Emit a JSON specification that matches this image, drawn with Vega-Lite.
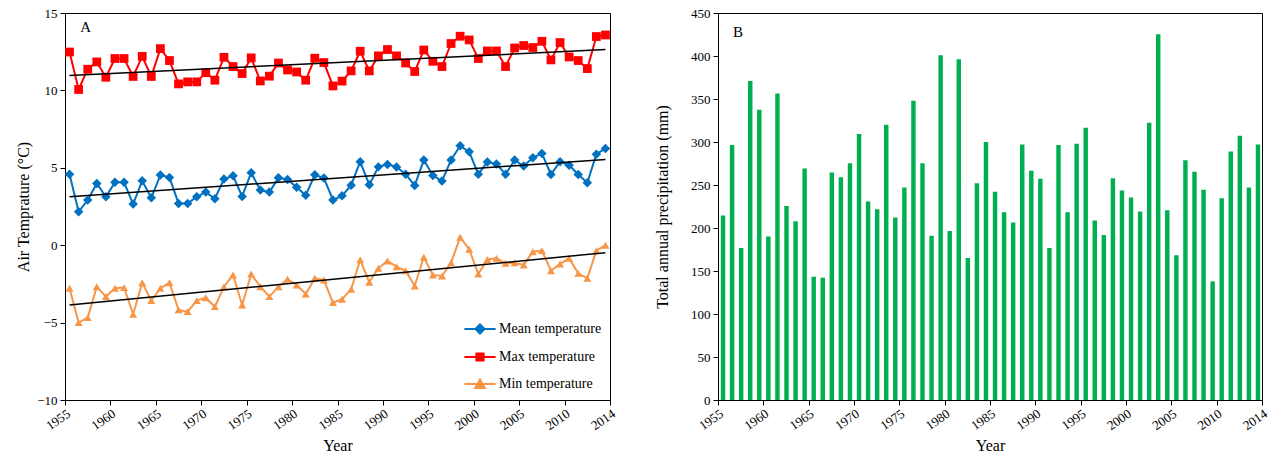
{
  "$schema": "https://vega.github.io/schema/vega-lite/v6.json",
  "padding": {"left": 15, "top": 6, "right": 5, "bottom": 5},
  "spacing": 36,
  "datasets": {
    "temp": [
      {"year": "1955", "mean": 4.59, "max": 12.48, "min": -2.78},
      {"year": "1956", "mean": 2.16, "max": 10.06, "min": -5.0},
      {"year": "1957", "mean": 2.92, "max": 11.37, "min": -4.68},
      {"year": "1958", "mean": 3.99, "max": 11.84, "min": -2.68},
      {"year": "1959", "mean": 3.13, "max": 10.85, "min": -3.32},
      {"year": "1960", "mean": 4.06, "max": 12.06, "min": -2.78},
      {"year": "1961", "mean": 4.06, "max": 12.06, "min": -2.74},
      {"year": "1962", "mean": 2.66, "max": 10.9, "min": -4.46},
      {"year": "1963", "mean": 4.16, "max": 12.2, "min": -2.42},
      {"year": "1964", "mean": 3.06, "max": 10.9, "min": -3.58},
      {"year": "1965", "mean": 4.53, "max": 12.7, "min": -2.78},
      {"year": "1966", "mean": 4.38, "max": 11.93, "min": -2.42},
      {"year": "1967", "mean": 2.7, "max": 10.42, "min": -4.18},
      {"year": "1968", "mean": 2.7, "max": 10.55, "min": -4.29},
      {"year": "1969", "mean": 3.13, "max": 10.55, "min": -3.58},
      {"year": "1970", "mean": 3.43, "max": 11.15, "min": -3.39},
      {"year": "1971", "mean": 3.0, "max": 10.66, "min": -3.97},
      {"year": "1972", "mean": 4.27, "max": 12.14, "min": -2.68},
      {"year": "1973", "mean": 4.48, "max": 11.54, "min": -1.92},
      {"year": "1974", "mean": 3.15, "max": 11.09, "min": -3.86},
      {"year": "1975", "mean": 4.68, "max": 12.1, "min": -1.86},
      {"year": "1976", "mean": 3.56, "max": 10.61, "min": -2.68},
      {"year": "1977", "mean": 3.43, "max": 10.92, "min": -3.32},
      {"year": "1978", "mean": 4.35, "max": 11.77, "min": -2.68},
      {"year": "1979", "mean": 4.25, "max": 11.32, "min": -2.2},
      {"year": "1980", "mean": 3.75, "max": 11.19, "min": -2.57},
      {"year": "1981", "mean": 3.22, "max": 10.66, "min": -3.15},
      {"year": "1982", "mean": 4.55, "max": 12.08, "min": -2.14},
      {"year": "1983", "mean": 4.34, "max": 11.8, "min": -2.25},
      {"year": "1984", "mean": 2.92, "max": 10.29, "min": -3.71},
      {"year": "1985", "mean": 3.19, "max": 10.6, "min": -3.49},
      {"year": "1986", "mean": 3.88, "max": 11.26, "min": -2.85},
      {"year": "1987", "mean": 5.39, "max": 12.53, "min": -0.95},
      {"year": "1988", "mean": 3.9, "max": 11.26, "min": -2.39},
      {"year": "1989", "mean": 5.06, "max": 12.23, "min": -1.49},
      {"year": "1990", "mean": 5.22, "max": 12.64, "min": -1.02},
      {"year": "1991", "mean": 5.05, "max": 12.23, "min": -1.39},
      {"year": "1992", "mean": 4.59, "max": 11.77, "min": -1.65},
      {"year": "1993", "mean": 3.86, "max": 11.22, "min": -2.63},
      {"year": "1994", "mean": 5.5, "max": 12.61, "min": -0.78},
      {"year": "1995", "mean": 4.51, "max": 11.88, "min": -1.92},
      {"year": "1996", "mean": 4.14, "max": 11.54, "min": -1.99},
      {"year": "1997", "mean": 5.5, "max": 13.03, "min": -1.13},
      {"year": "1998", "mean": 6.42, "max": 13.5, "min": 0.51},
      {"year": "1999", "mean": 6.03, "max": 13.26, "min": -0.26},
      {"year": "2000", "mean": 4.59, "max": 12.06, "min": -1.86},
      {"year": "2001", "mean": 5.37, "max": 12.55, "min": -0.92},
      {"year": "2002", "mean": 5.24, "max": 12.55, "min": -0.85},
      {"year": "2003", "mean": 4.59, "max": 11.54, "min": -1.17},
      {"year": "2004", "mean": 5.5, "max": 12.74, "min": -1.13},
      {"year": "2005", "mean": 5.11, "max": 12.9, "min": -1.28},
      {"year": "2006", "mean": 5.65, "max": 12.77, "min": -0.42},
      {"year": "2007", "mean": 5.93, "max": 13.17, "min": -0.35},
      {"year": "2008", "mean": 4.57, "max": 11.97, "min": -1.65},
      {"year": "2009", "mean": 5.39, "max": 13.09, "min": -1.21},
      {"year": "2010", "mean": 5.17, "max": 12.16, "min": -0.85},
      {"year": "2011", "mean": 4.57, "max": 11.93, "min": -1.82},
      {"year": "2012", "mean": 4.03, "max": 11.41, "min": -2.14},
      {"year": "2013", "mean": 5.88, "max": 13.48, "min": -0.35},
      {"year": "2014", "mean": 6.25, "max": 13.58, "min": 0.0}
    ],
    "trend": [
      {"year": "1955", "series": "mean", "temp": 3.13},
      {"year": "2014", "series": "mean", "temp": 5.54},
      {"year": "1955", "series": "max", "temp": 10.96},
      {"year": "2014", "series": "max", "temp": 12.64},
      {"year": "1955", "series": "min", "temp": -3.86},
      {"year": "2014", "series": "min", "temp": -0.48}
    ],
    "panelA": [{"label": "A"}],
    "panelB": [{"label": "B"}],
    "precip": [
      {"year": "1955", "precip": 214.5}, {"year": "1956", "precip": 296.4}, {"year": "1957", "precip": 176.8},
      {"year": "1958", "precip": 371}, {"year": "1959", "precip": 337.6}, {"year": "1960", "precip": 190},
      {"year": "1961", "precip": 356.3}, {"year": "1962", "precip": 225.7}, {"year": "1963", "precip": 207.8},
      {"year": "1964", "precip": 269.2}, {"year": "1965", "precip": 143.4}, {"year": "1966", "precip": 142.2},
      {"year": "1967", "precip": 264.6}, {"year": "1968", "precip": 259.1}, {"year": "1969", "precip": 275.4},
      {"year": "1970", "precip": 309.2}, {"year": "1971", "precip": 230.8}, {"year": "1972", "precip": 221.8},
      {"year": "1973", "precip": 320.2}, {"year": "1974", "precip": 212.1}, {"year": "1975", "precip": 247.1},
      {"year": "1976", "precip": 348.1}, {"year": "1977", "precip": 275.4}, {"year": "1978", "precip": 191.1},
      {"year": "1979", "precip": 400.9}, {"year": "1980", "precip": 196.6}, {"year": "1981", "precip": 396.3},
      {"year": "1982", "precip": 165.1}, {"year": "1983", "precip": 252.1}, {"year": "1984", "precip": 299.9},
      {"year": "1985", "precip": 242.1}, {"year": "1986", "precip": 218.3}, {"year": "1987", "precip": 206.3},
      {"year": "1988", "precip": 297.2}, {"year": "1989", "precip": 266.5}, {"year": "1990", "precip": 257.2},
      {"year": "1991", "precip": 176.8}, {"year": "1992", "precip": 296.4}, {"year": "1993", "precip": 218.3},
      {"year": "1994", "precip": 298}, {"year": "1995", "precip": 316.7}, {"year": "1996", "precip": 208.6},
      {"year": "1997", "precip": 191.9}, {"year": "1998", "precip": 257.9}, {"year": "1999", "precip": 243.6},
      {"year": "2000", "precip": 235.4}, {"year": "2001", "precip": 219.1}, {"year": "2002", "precip": 322.5},
      {"year": "2003", "precip": 425.4}, {"year": "2004", "precip": 220.6}, {"year": "2005", "precip": 168.2},
      {"year": "2006", "precip": 278.9}, {"year": "2007", "precip": 265.3}, {"year": "2008", "precip": 244.4},
      {"year": "2009", "precip": 137.9}, {"year": "2010", "precip": 234.6}, {"year": "2011", "precip": 289},
      {"year": "2012", "precip": 307.3}, {"year": "2013", "precip": 247.1}, {"year": "2014", "precip": 297.2}
    ]
  },
  "hconcat": [
    {
      "width": 545,
      "height": 387,
      "layer": [
        {
          "data": {"name": "temp"},
          "transform": [{"fold": ["mean", "max", "min"], "as": ["series", "temp"]}],
          "mark": {"type": "line", "strokeWidth": 2},
          "encoding": {
            "x": {"field": "year", "type": "temporal", "timeUnit": "utcyear", "bandPosition": 0.5,
              "scale": {"domain": [{"year": 1955, "utc": true}, {"year": 2015, "utc": true}]},
              "axis": {"title": "Year", "values": [{"year": 1955, "utc": true}, {"year": 1960, "utc": true}, {"year": 1965, "utc": true}, {"year": 1970, "utc": true}, {"year": 1975, "utc": true}, {"year": 1980, "utc": true}, {"year": 1985, "utc": true}, {"year": 1990, "utc": true}, {"year": 1995, "utc": true}, {"year": 2000, "utc": true}, {"year": 2005, "utc": true}, {"year": 2010, "utc": true}, {"year": 2015, "utc": true}],
                "labelExpr": "utcyear(datum.value) == 2015 ? '2014' : '' + utcyear(datum.value)",
                "labelAngle": -35, "labelAlign": "right", "labelBaseline": "top", "labelPadding": 2}},
            "y": {"field": "temp", "type": "quantitative",
              "scale": {"domain": [-10, 15], "nice": false, "zero": false},
              "axis": {"title": "Air Temprature (°C)", "values": [-10, -5, 0, 5, 10, 15]}},
            "color": {"field": "series", "type": "nominal",
              "scale": {"domain": ["mean", "max", "min"], "range": ["#0070C0", "#FF0000", "#F79646"]},
              "legend": {"title": null, "orient": "bottom-right", "offset": 8, "padding": 0,
                "symbolSize": 576, "labelOffset": 6, "rowPadding": 6,
                "labelExpr": "datum.value == 'mean' ? 'Mean temperature' : datum.value == 'max' ? 'Max temperature' : 'Min temperature'",
                "encode": {"symbols": {"update": {
                  "shape": {"signal": "datum.value == 'mean' ? 'M-1.3,0H1.3M-0.38,0L0,-0.38L0.38,0L0,0.38Z' : datum.value == 'max' ? 'M-1.3,0H1.3M-0.3,-0.3H0.3V0.3H-0.3Z' : 'M-1.3,0H1.3M-0.4,0.33L0,-0.38L0.4,0.33Z'"},
                  "fill": {"signal": "datum.value == 'mean' ? '#0070C0' : datum.value == 'max' ? '#FF0000' : '#F79646'"},
                  "stroke": {"signal": "datum.value == 'mean' ? '#0070C0' : datum.value == 'max' ? '#FF0000' : '#F79646'"},
                  "strokeWidth": {"value": 2},
                  "opacity": {"value": 1}
                }}}}},
            "detail": {"field": "series"}
          }
        },
        {
          "data": {"name": "temp"},
          "transform": [{"fold": ["mean", "max", "min"], "as": ["series", "temp"]}],
          "mark": {"type": "point", "filled": true, "opacity": 1},
          "encoding": {
            "x": {"field": "year", "type": "temporal", "timeUnit": "utcyear", "bandPosition": 0.5},
            "y": {"field": "temp", "type": "quantitative"},
            "color": {"field": "series", "type": "nominal"},
            "shape": {"field": "series", "type": "nominal",
              "scale": {"domain": ["mean", "max", "min"], "range": ["diamond", "square", "triangle-up"]}, "legend": null},
            "size": {"field": "series", "type": "nominal",
              "scale": {"domain": ["mean", "max", "min"], "range": [90, 64, 100]}, "legend": null}
          }
        },
        {
          "data": {"name": "trend"},
          "mark": {"type": "line", "color": "black", "strokeWidth": 1.5},
          "encoding": {
            "x": {"field": "year", "type": "temporal", "timeUnit": "utcyear", "bandPosition": 0.5},
            "y": {"field": "temp", "type": "quantitative"},
            "detail": {"field": "series"}
          }
        },
        {
          "data": {"name": "panelA"},
          "mark": {"type": "text", "align": "left", "baseline": "alphabetic", "fontSize": 15, "font": "Liberation Serif", "color": "black"},
          "encoding": {
            "x": {"datum": {"year": 1956, "month": 9, "utc": true}, "type": "temporal"},
            "y": {"datum": 13.77, "type": "quantitative"},
            "text": {"field": "label"}
          }
        }
      ]
    },
    {
      "width": 544,
      "height": 387,
      "layer": [
        {
          "data": {"name": "precip"},
          "mark": {"type": "bar", "color": "#00B050", "width": {"band": 0.6}},
          "encoding": {
            "x": {"field": "year", "type": "temporal", "timeUnit": "utcyear",
              "scale": {"domain": [{"year": 1955, "utc": true}, {"year": 2015, "utc": true}]},
              "axis": {"title": "Year", "values": [{"year": 1955, "utc": true}, {"year": 1960, "utc": true}, {"year": 1965, "utc": true}, {"year": 1970, "utc": true}, {"year": 1975, "utc": true}, {"year": 1980, "utc": true}, {"year": 1985, "utc": true}, {"year": 1990, "utc": true}, {"year": 1995, "utc": true}, {"year": 2000, "utc": true}, {"year": 2005, "utc": true}, {"year": 2010, "utc": true}, {"year": 2015, "utc": true}],
                "labelExpr": "utcyear(datum.value) == 2015 ? '2014' : '' + utcyear(datum.value)",
                "labelAngle": -35, "labelAlign": "right", "labelBaseline": "top", "labelPadding": 2}},
            "y": {"field": "precip", "type": "quantitative",
              "scale": {"domain": [0, 450], "nice": false},
              "axis": {"title": "Total annual precipitation (mm)", "values": [0, 50, 100, 150, 200, 250, 300, 350, 400, 450], "titlePadding": 20}}
          }
        },
        {
          "data": {"name": "panelB"},
          "mark": {"type": "text", "align": "left", "baseline": "alphabetic", "fontSize": 15, "font": "Liberation Serif", "color": "black"},
          "encoding": {
            "x": {"datum": {"year": 1956, "month": 9, "utc": true}, "type": "temporal"},
            "y": {"datum": 422, "type": "quantitative"},
            "text": {"field": "label"}
          }
        }
      ]
    }
  ],
  "resolve": {"scale": {"x": "independent", "y": "independent", "color": "independent"}, "legend": {"color": "independent"}},
  "config": {
    "font": "Liberation Serif",
    "view": {"stroke": "black", "strokeWidth": 1},
    "axis": {"labelFont": "Liberation Serif", "labelFontSize": 13, "labelColor": "black",
      "titleFont": "Liberation Serif", "titleFontSize": 16, "titleFontWeight": "normal", "titleColor": "black",
      "domainColor": "black", "tickColor": "black", "grid": false, "tickSize": 5, "labelPadding": 3, "titlePadding": 5},
    "legend": {"labelFont": "Liberation Serif", "labelFontSize": 14, "labelColor": "black"}
  }
}
